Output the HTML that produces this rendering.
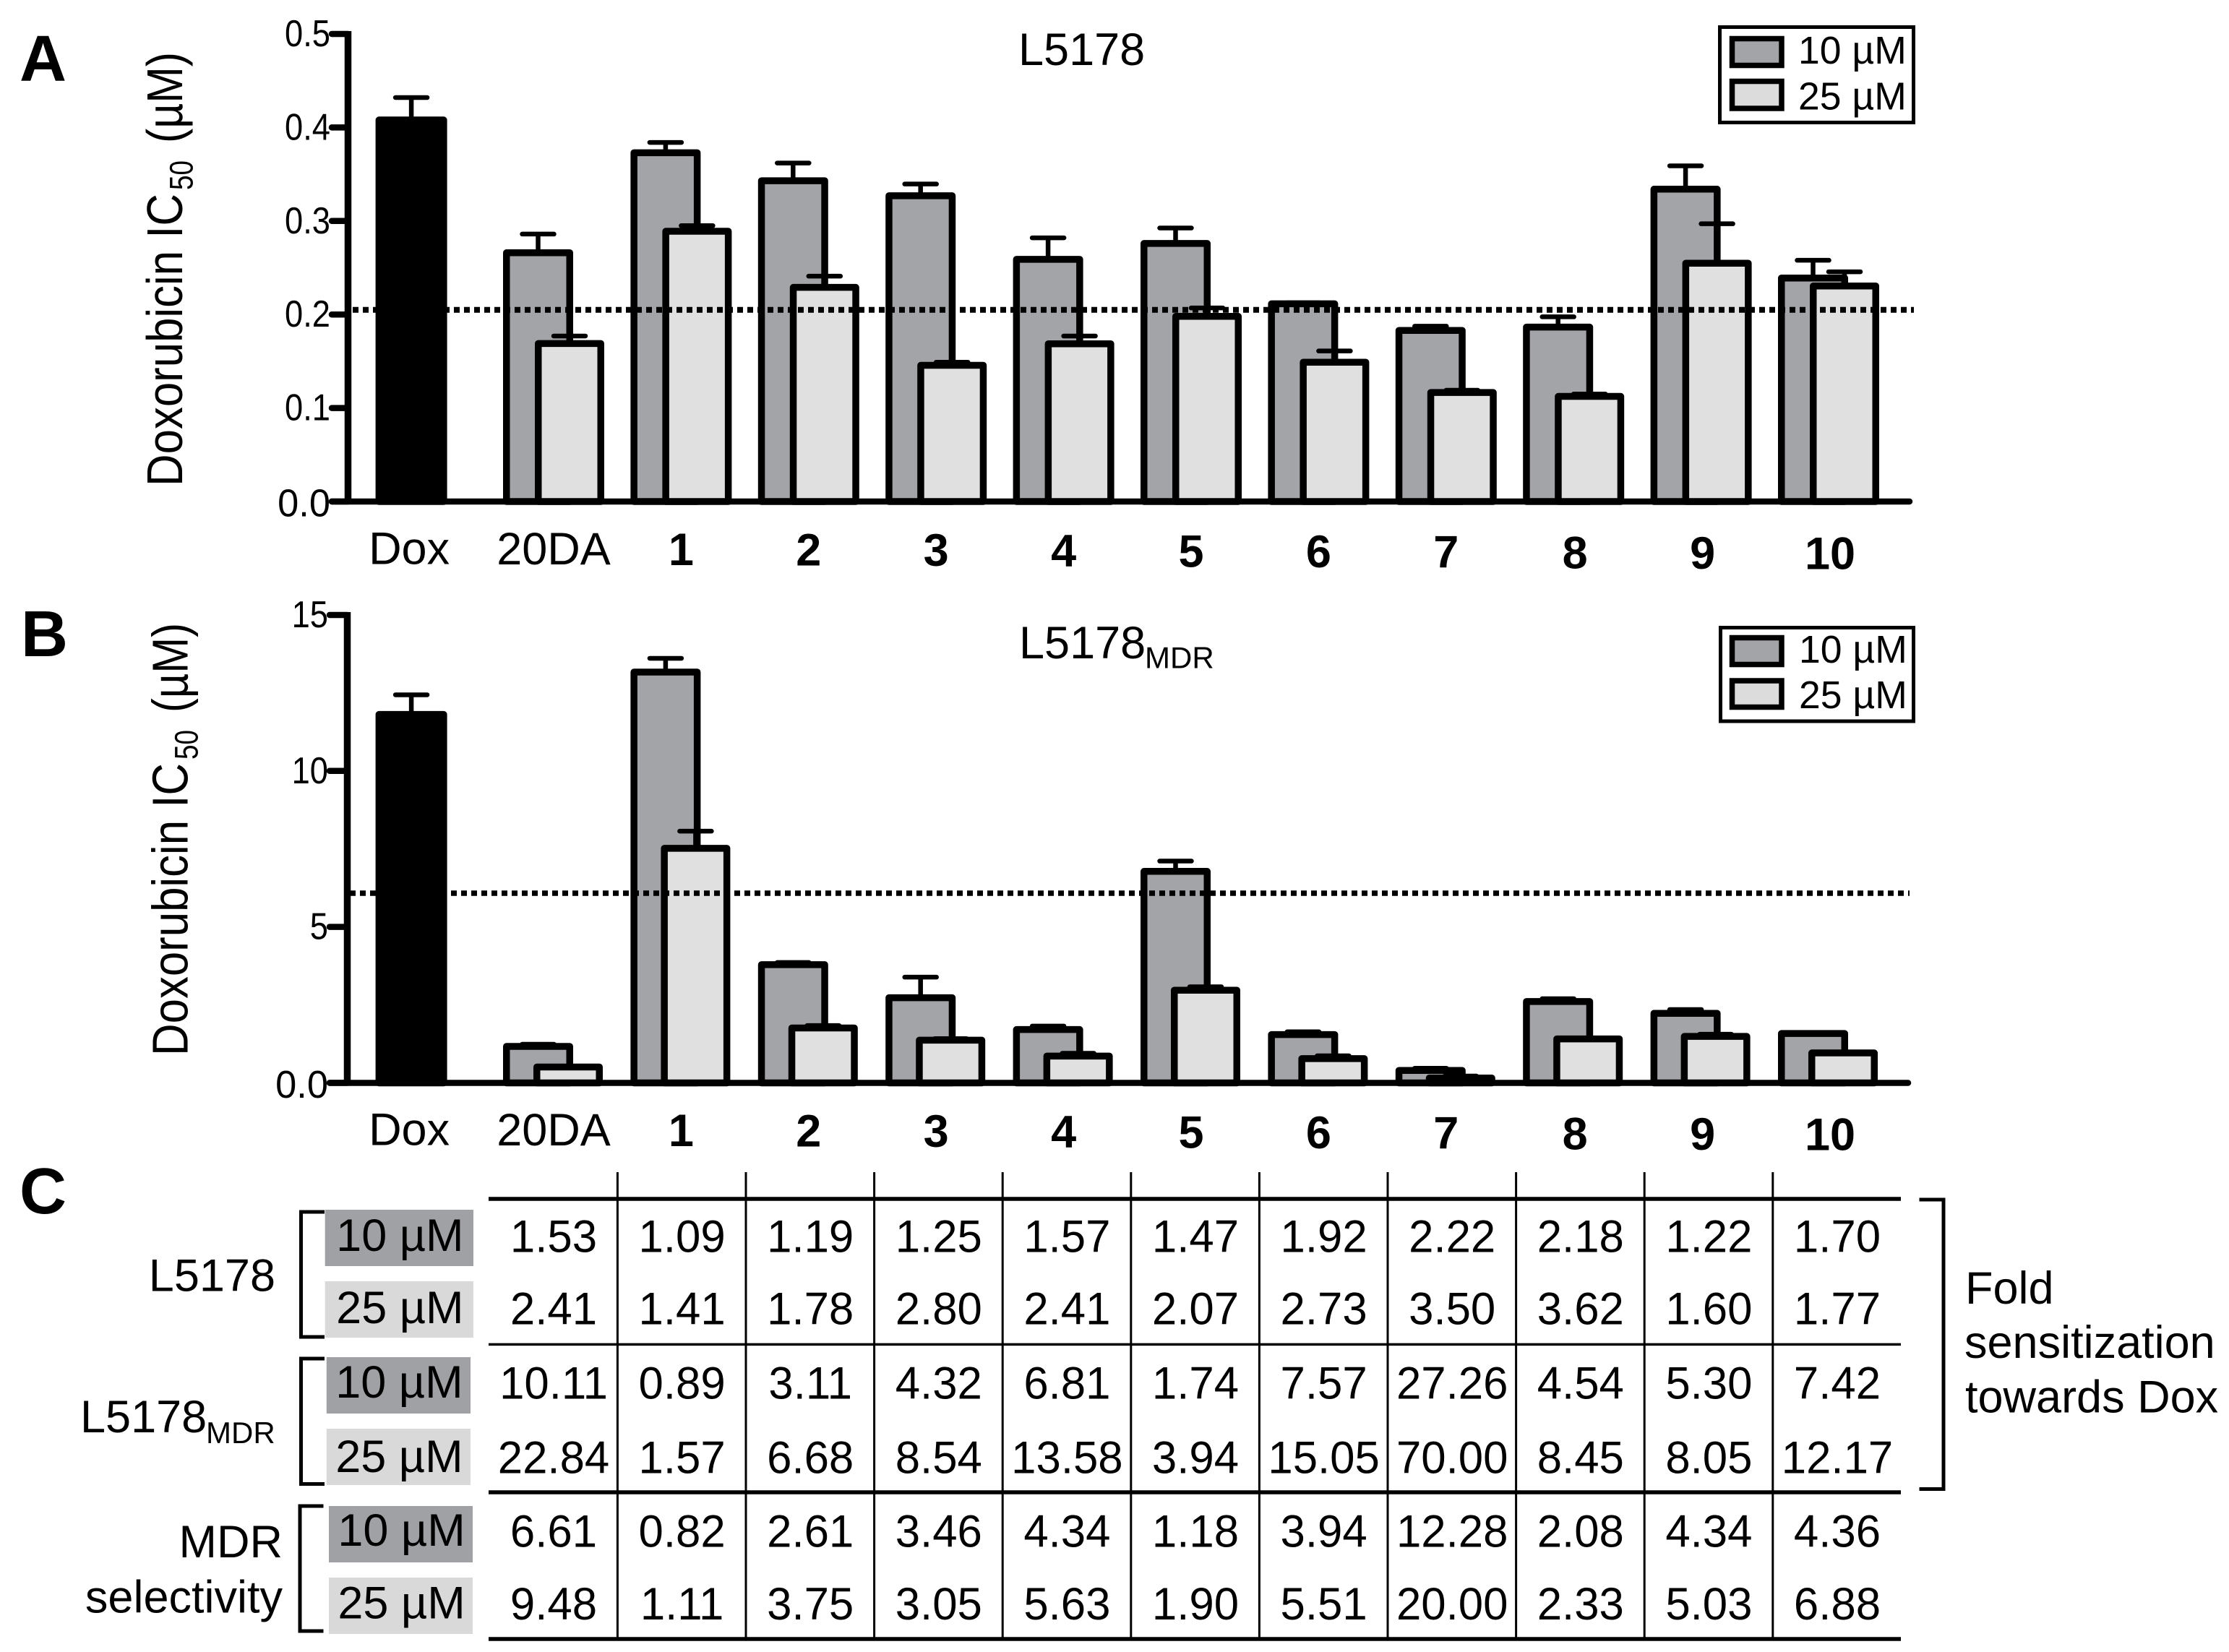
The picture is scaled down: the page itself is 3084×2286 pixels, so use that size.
<!DOCTYPE html>
<html lang="en">
<head>
<meta charset="utf-8">
<title>Doxorubicin IC50 chart</title>
<style>
html,body{margin:0;padding:0;background:#fff;width:3084px;height:2286px;overflow:hidden}
svg{display:block}
text{font-family:"Liberation Sans",Arial,sans-serif;fill:#000}
</style>
</head>
<body>
<svg id="fig" xmlns="http://www.w3.org/2000/svg" width="3084" height="2286" viewBox="0 0 3084 2286">
<rect width="3084" height="2286" fill="#fff"/>

<text x="27" y="112" font-size="90" font-weight="bold">A</text>
<text x="29" y="908" font-size="90" font-weight="bold">B</text>
<text x="27" y="1679" font-size="90" font-weight="bold">C</text>

<g id="chartA"></g>
<g id="chartB"></g>

<g>
<text transform="translate(252,673) rotate(-90)" font-size="70" textLength="405" lengthAdjust="spacingAndGlyphs">Doxorubicin IC</text>
<text transform="translate(266.6,263) rotate(-90)" font-size="45" textLength="41" lengthAdjust="spacingAndGlyphs">50</text>
<text transform="translate(252,198) rotate(-90)" font-size="70" textLength="126" lengthAdjust="spacingAndGlyphs">(µM)</text>
</g>
<g>
<text transform="translate(259.6,1461) rotate(-90)" font-size="70" textLength="405" lengthAdjust="spacingAndGlyphs">Doxorubicin IC</text>
<text transform="translate(273.6,1051) rotate(-90)" font-size="45" textLength="41" lengthAdjust="spacingAndGlyphs">50</text>
<text transform="translate(259.6,986) rotate(-90)" font-size="70" textLength="124" lengthAdjust="spacingAndGlyphs">(µM)</text>
</g>

<text x="1409" y="90" font-size="63">L5178</text>
<g>
<text x="1410" y="911" font-size="63">L5178</text>
<text x="1584" y="924.6" font-size="42">MDR</text>
</g>

<g>
<rect x="2379.5" y="37.5" width="268" height="132" fill="#fff" stroke="#000" stroke-width="5"/>
<rect x="2396.5" y="53.5" width="68.5" height="37" fill="#a3a4a8" stroke="#000" stroke-width="7.5"/>
<text x="2488" y="88" font-size="53.5">10 µM</text>
<rect x="2396.5" y="112.5" width="68.5" height="37.5" fill="#dcdcdc" stroke="#000" stroke-width="7.5"/>
<text x="2488" y="151.7" font-size="53.5">25 µM</text>
</g>
<g>
<rect x="2380.5" y="868.5" width="267" height="129.5" fill="#fff" stroke="#000" stroke-width="5"/>
<rect x="2396.5" y="882.5" width="68.5" height="37" fill="#a3a4a8" stroke="#000" stroke-width="7.5"/>
<text x="2489" y="917" font-size="53.5">10 µM</text>
<rect x="2396.5" y="942" width="68.5" height="36.5" fill="#dcdcdc" stroke="#000" stroke-width="7.5"/>
<text x="2489" y="980" font-size="53.5">25 µM</text>
</g>

<g id="tableC"></g>

<text x="381" y="1786.5" font-size="63" text-anchor="end">L5178</text>
<g>
<text x="111" y="1982" font-size="63">L5178</text>
<text x="285" y="1997" font-size="42">MDR</text>
</g>
<g>
<text x="391" y="2155" font-size="63" text-anchor="end">MDR</text>
<text x="391" y="2231.7" font-size="63" text-anchor="end">selectivity</text>
</g>

<path d="M449 1677H416.5V1850H449" fill="none" stroke="#000" stroke-width="5"/>
<path d="M449 1880H416.5V2053.5H449" fill="none" stroke="#000" stroke-width="5"/>
<path d="M447.5 2084H415V2257H447.5" fill="none" stroke="#000" stroke-width="5"/>
<path d="M2655.5 1660H2689V2060.5H2655.5" fill="none" stroke="#000" stroke-width="5"/>

<g>
<text x="2719" y="1804" font-size="63">Fold</text>
<text x="2718" y="1879" font-size="63">sensitization</text>
<text x="2719" y="1954.7" font-size="63">towards Dox</text>
</g>
</svg>

<script>
const categories = ['Dox','20DA','1','2','3','4','5','6','7','8','9','10'];

const yTicksA = [0, 0.1, 0.2, 0.3, 0.4, 0.5];
const yTickLabelsA = ['0.0','0.1','0.2','0.3','0.4','0.5'];
const referenceA = 0.205;
const values10A = [0.408,0.266,0.373,0.343,0.327,0.259,0.276,0.2115,0.183,0.1865,0.334,0.239];
const caps10A   = [0.432,0.286,0.384,0.362,0.3395,0.282,0.2925,0.2125,0.1875,0.1975,0.359,0.258];
const values25A = [null,0.169,0.289,0.229,0.1457,0.1687,0.198,0.149,0.1166,0.1124,0.2548,0.2305];
const caps25A   = [null,0.177,0.295,0.241,0.149,0.177,0.207,0.161,0.119,0.115,0.297,0.2457];

const yTicksB = [0, 5, 10, 15];
const yTickLabelsB = ['0.0','5','10','15'];
const referenceB = 6.08;
const values10B = [11.81,1.17,13.17,3.79,2.73,1.71,6.78,1.55,0.40,2.61,2.23,1.585];
const caps10B   = [12.44,1.24,13.61,3.86,3.39,1.82,7.11,1.64,0.47,2.70,2.35,1.60];
const values25B = [null,0.51,7.52,1.76,1.37,0.86,2.97,0.78,0.157,1.41,1.49,0.96];
const caps25B   = [null,0.53,8.07,1.84,1.42,0.95,3.08,0.87,0.22,1.42,1.56,0.97];

const tableRowLabels = ['10 µM','25 µM','10 µM','25 µM','10 µM','25 µM'];
const tableRow1 = ['1.53','1.09','1.19','1.25','1.57','1.47','1.92','2.22','2.18','1.22','1.70'];
const tableRow2 = ['2.41','1.41','1.78','2.80','2.41','2.07','2.73','3.50','3.62','1.60','1.77'];
const tableRow3 = ['10.11','0.89','3.11','4.32','6.81','1.74','7.57','27.26','4.54','5.30','7.42'];
const tableRow4 = ['22.84','1.57','6.68','8.54','13.58','3.94','15.05','70.00','8.45','8.05','12.17'];
const tableRow5 = ['6.61','0.82','2.61','3.46','4.34','1.18','3.94','12.28','2.08','4.34','4.36'];
const tableRow6 = ['9.48','1.11','3.75','3.05','5.63','1.90','5.51','20.00','2.33','5.03','6.88'];

const NS = 'http://www.w3.org/2000/svg';
const COLOR10 = '#a3a4a8';
const COLOR25 = '#e0e0e0';

function mk(tag, attrs, parent, txt) {
  const n = document.createElementNS(NS, tag);
  for (const k in attrs) n.setAttribute(k, attrs[k]);
  if (txt !== undefined) n.textContent = txt;
  parent.appendChild(n);
  return n;
}

function drawChart(root, yScale, geo, ticks, tickLabels, reference, v10, c10, v25, c25) {
  const step = 176.4, left0 = 519.6, barW = 97, sw = 9.5;
  const xLeft = i => left0 + step * i;

  function errorBar(cx, value, cap, name) {
    if (cap === null) return;
    const stem = mk('line', {x1:cx, x2:cx, y1:yScale(value), y2:yScale(cap), stroke:'#000', 'stroke-width':6.5}, root);
    
    
    const bar = mk('line', {x1:cx-22, x2:cx+22, y1:yScale(cap), y2:yScale(cap), stroke:'#000', 'stroke-width':6.5, 'stroke-linecap':'round'}, root);
    
    
  }

  function bar(x, w, value, fill, name) {
    const yTop = yScale(value);
    const r = mk('rect', {x:x+sw/2, y:yTop, width:w-sw, height:Math.max(0, geo.base-yTop), fill:fill, stroke:'#000', 'stroke-width':sw, 'stroke-linejoin':'round'}, root);
    
    
  }

  categories.forEach((cat, i) => {
    const left = xLeft(i);
    if (v25[i] === null) {
      errorBar(left + 49.5, v10[i], c10[i], 'error-' + cat);
      bar(left, 99, v10[i], '#000', 'bar-' + cat);
    } else {
      errorBar(left + barW/2, v10[i], c10[i], 'error-10um-' + cat);
      bar(left, barW, v10[i], COLOR10, 'bar-10um-' + cat);
      const l25 = left + geo.offset;
      errorBar(l25 + 48, v25[i], c25[i], 'error-25um-' + cat);
      bar(l25, 96, v25[i], COLOR25, 'bar-25um-' + cat);
    }
    const isNum = /^\d+$/.test(cat);
    const lx = v25[i] === null ? left + 46.5 : left + 70 + (i > 8 ? 2 : 0);
    const label = mk('text', {x:lx, y:geo.labelBase + i*0.65, 'font-size':isNum ? 63 : 63, 'font-weight':isNum ? 'bold' : 'normal', 'text-anchor':'middle'}, root, cat);
    
    
  });

  const ref = mk('line', {x1:geo.refStart, x2:geo.refEnd, y1:yScale(reference), y2:yScale(reference), stroke:'#000', 'stroke-width':geo.refW, 'stroke-dasharray':'8 6'}, root);
  
  

  const yAxis = mk('line', {x1:geo.axisX, x2:geo.axisX, y1:yScale(ticks[ticks.length-1]) - 4, y2:geo.base, stroke:'#000', 'stroke-width':9.5}, root);
  
  

  const xAxis = mk('line', {x1:geo.tickStart, x2:geo.xEnd, y1:geo.base, y2:geo.base, stroke:'#000', 'stroke-width':8.5, 'stroke-linecap':'round'}, root);
  
  

  ticks.forEach((t, i) => {
    const y = yScale(t);
    const tick = mk('line', {x1:geo.tickStart, x2:geo.axisX, y1:y, y2:y, stroke:'#000', 'stroke-width':8.5, 'stroke-linecap':'round'}, root);
    
    
    const zero = t === 0;
    const lab = mk('text', {transform:'translate(' + (geo.tickStart - 2) + ',' + (y + (zero ? 20.5 : 17)) + ') scale(' + (zero ? 0.97 : 0.88) + ',1)', 'font-size':zero ? 54 : 51.5, 'text-anchor':'end'}, root, tickLabels[i]);
    
    
  });
}

drawChart(document.getElementById('chartA'), v => 694 - 1294 * v,
  {base:694, offset:44, labelBase:780.5, refStart:488, refEnd:2648, refW:8, axisX:481.5, tickStart:459, xEnd:2642},
  yTicksA, yTickLabelsA, referenceA, values10A, caps10A, values25A, caps25A);

drawChart(document.getElementById('chartB'), v => 1498.5 - 43.17 * v,
  {base:1498.5, offset:42, labelBase:1584.5, refStart:484, refEnd:2642, refW:7.5, axisX:480.5, tickStart:456, xEnd:2640},
  yTicksB, yTickLabelsB, referenceB, values10B, caps10B, values25B, caps25B);

(function drawTable() {
  const root = document.getElementById('tableC');
  const rows = [tableRow1, tableRow2, tableRow3, tableRow4, tableRow5, tableRow6];
  const rowBase = [1732.6, 1832.4, 1935.6, 2038.4, 2140.4, 2241];
  const swatchX = [449.7, 449.7, 451.8, 451.8, 455, 455];
  const swatchW = [205.3, 205.3, 199.2, 199.2, 199, 199];
  const swatchY = [1674, 1773, 1878, 1977, 2084, 2183];
  const colX = i => 766 + 177.6 * i;

  rows.forEach((row, r) => {
    const sw = mk('rect', {x:swatchX[r], y:swatchY[r], width:swatchW[r], height:78, fill:r % 2 ? '#d9d9d9' : '#a0a1a5'}, root);
    
    
    const rl = mk('text', {x:swatchX[r] + swatchW[r]/2 + 1, y:rowBase[r] - 1.5, 'font-size':63, 'text-anchor':'middle'}, root, tableRowLabels[r]);
    
    
    row.forEach((val, c) => {
      const t = mk('text', {transform:'translate(' + colX(c) + ',' + rowBase[r] + ') scale(.98,1)', 'font-size':63, 'text-anchor':'middle'}, root, val);
      
      
    });
  });

  [[1659,5.5],[1860.4,3.5],[2065,5.5],[2268,5.5]].forEach((h, i) => {
    const l = mk('line', {x1:676, x2:2630, y1:h[0], y2:h[0], stroke:'#000', 'stroke-width':h[1]}, root);
    
    
  });
  for (let i = 0; i < 10; i++) {
    const x = 854.4 + 177.6 * i;
    const l = mk('line', {x1:x, x2:x, y1:1622, y2:2268, stroke:'#000', 'stroke-width':3}, root);
    
    
  }
})();
</script>
</body>
</html>
